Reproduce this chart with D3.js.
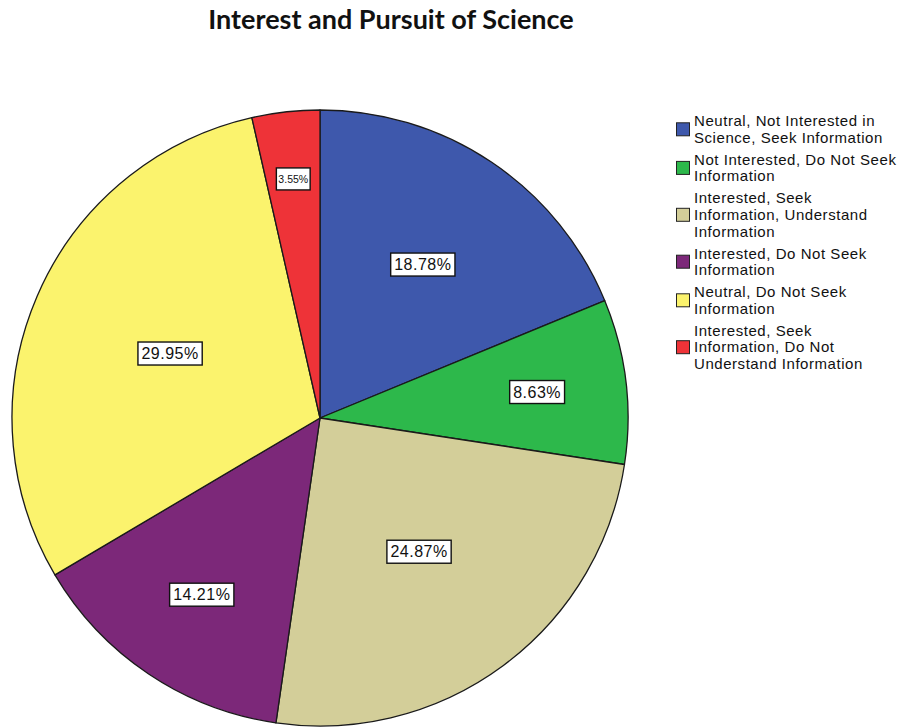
<!DOCTYPE html>
<html><head><meta charset="utf-8">
<script src="https://cdn.jsdelivr.net/npm/d3@7"></script>
<style>body{margin:0;background:#fff;}</style>
</head><body>
<svg id="chart" width="901" height="727"></svg>
<script>
const categories = [
  ["Neutral, Not Interested in", "Science, Seek Information"],
  ["Not Interested, Do Not Seek", "Information"],
  ["Interested, Seek", "Information, Understand", "Information"],
  ["Interested, Do Not Seek", "Information"],
  ["Neutral, Do Not Seek", "Information"],
  ["Interested, Seek", "Information, Do Not", "Understand Information"]
];
const values = [18.78, 8.63, 24.87, 14.21, 29.95, 3.55];
const labels = ["18.78%", "8.63%", "24.87%", "14.21%", "29.95%", "3.55%"];
const colors = ["#3E58AC", "#2DB84B", "#D3CE99", "#7C2879", "#FBF36D", "#EE3338"];
const title = "Interest and Pursuit of Science";
// label placement (fraction of radius) per slice
const labelRadiusFrac = [0.6, 0.71, 0.54, 0.69, 0.53, 0.78];

const svg = d3.select("#chart");
svg.append("text").attr("x", 391).attr("y", 29).attr("text-anchor", "middle")
  .attr("font-family", "Lato, 'Open Sans', sans-serif").attr("font-weight", "bold")
  .attr("font-size", 27).attr("fill", "#111").text(title);

const cx = 320, cy = 418, r = 308;
const pie = d3.pie().sort(null).value(d => d);
const arcs = pie(values);
const arc = d3.arc().innerRadius(0).outerRadius(r);
const g = svg.append("g").attr("transform", `translate(${cx},${cy})`);
g.selectAll("path").data(arcs).join("path")
  .attr("d", arc).attr("fill", (d, i) => colors[i])
  .attr("stroke", "#1a1a1a").attr("stroke-width", 1.3).attr("stroke-linejoin", "round");

arcs.forEach((d, i) => {
  const lr = r * labelRadiusFrac[i];
  const [x, y] = d3.arc().innerRadius(lr).outerRadius(lr).centroid(d);
  const small = values[i] < 5;
  const fs = small ? 10.5 : 16;
  const lg = g.append("g").attr("transform", `translate(${x},${y})`);
  const t = lg.append("text").attr("text-anchor", "middle").attr("dy", "0.35em")
    .attr("font-family", "Liberation Sans, Arial, sans-serif").attr("font-size", fs)
    .attr("letter-spacing", small ? 0 : 0.5)
    .attr("fill", "#111").text(labels[i]);
  const bb = t.node().getBBox();
  const ph = small ? 2 : 3.5, pv = small ? 5 : 3;
  lg.insert("rect", "text").attr("x", bb.x - ph).attr("y", bb.y - pv)
    .attr("width", bb.width + 2 * ph).attr("height", bb.height + 2 * pv)
    .attr("fill", "#fff").attr("stroke", "#111").attr("stroke-width", 1.4);
});

const legend = svg.append("g").attr("transform", "translate(676,0)");
const lineH = 16.6;
let y = 121;
categories.forEach((lines, i) => {
  const n = lines.length;
  const mid = y + (n - 1) * lineH / 2;
  legend.append("rect").attr("x", 0.5).attr("y", mid - 6.5).attr("width", 13).attr("height", 13)
    .attr("fill", colors[i]).attr("stroke", "#222").attr("stroke-width", 1);
  lines.forEach((ln, j) => {
    legend.append("text").attr("x", 18).attr("y", y + j * lineH).attr("dy", "0.35em")
      .attr("font-family", "Liberation Sans, Arial, sans-serif").attr("font-size", 15)
      .attr("letter-spacing", 0.55)
      .attr("fill", "#111").text(ln);
  });
  y += (n - 1) * lineH + 22;
});
</script>
</body></html>
